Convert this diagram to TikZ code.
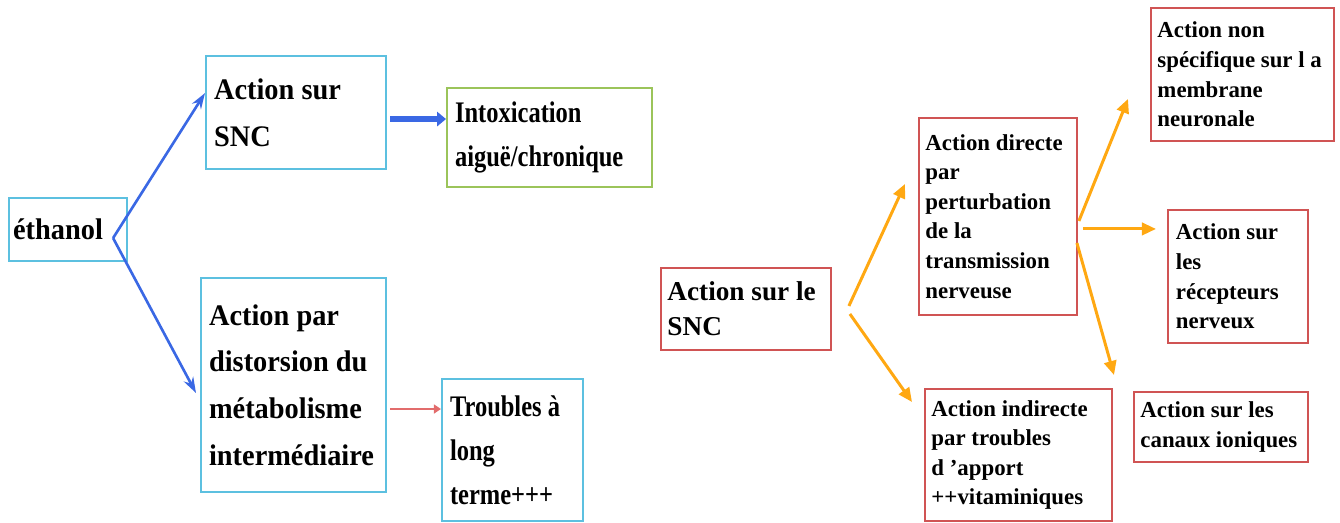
\documentclass[tikz,border=0pt]{standalone}
\usepackage{fontspec}
\setmainfont{Liberation Serif}
\newfontfamily\narrowserif{Liberation Serif}[FakeStretch=0.95]
\newfontfamily\condserif{Liberation Serif}[FakeStretch=0.82]
\usetikzlibrary{arrows.meta}

\definecolor{boxcyan}{RGB}{92,192,224}
\definecolor{boxgreen}{RGB}{155,196,90}
\definecolor{boxred}{RGB}{208,84,84}
\definecolor{arrowblue}{RGB}{58,104,228}
\definecolor{arroworange}{RGB}{255,168,18}
\definecolor{arrowred}{RGB}{226,108,108}

\tikzset{
  leftbox/.style={draw=boxcyan, line width=1.2pt, anchor=north west, align=flush left,
    inner xsep=0.16cm, inner ysep=0pt, font=\narrowserif\bfseries\fontsize{17}{26.5}\selectfont},
  condbox/.style={leftbox, font=\condserif\bfseries\fontsize{17}{25}\selectfont},
  rightbox/.style={draw=boxred, line width=1.1pt, anchor=north west, align=flush left,
    inner xsep=0.13cm, inner ysep=0pt, font=\bfseries\fontsize{13}{16.8}\selectfont},
  bluearrow/.style={draw=arrowblue, line width=1.5pt, -{Stealth[length=9pt,width=6pt]}},
  thickblue/.style={draw=arrowblue, line width=3pt, -{Triangle[length=5pt,width=8pt]}},
  redarrow/.style={draw=arrowred, line width=1.5pt, -{Triangle[length=4pt,width=5pt]}},
  orangearrow/.style={draw=arroworange, line width=1.7pt, -{Triangle[length=8pt,width=7pt]}}
}

\begin{document}
\begin{tikzpicture}[x=0.02cm, y=-0.02cm]
  \useasboundingbox (0,0) rectangle (1340,522);

  % Ethanol and its two actions
  \node[leftbox, inner xsep=0.08cm, text width=2.2cm, minimum height=1.26cm] (ethanol) at (8,197) {éthanol};
  \node[leftbox, text width=3.28cm, minimum height=2.26cm] (snc) at (205,55) {Action sur\\SNC};
  \node[leftbox, text width=3.38cm, minimum height=4.28cm] (metab) at (200,277) {Action par\\distorsion du\\métabolisme\\intermédiaire};

  % Consequences
  \node[condbox, draw=boxgreen, text width=3.78cm, minimum height=1.98cm] (intox) at (446,87) {Intoxication\\aiguë/chronique};
  \node[condbox, text width=2.5cm, minimum height=2.84cm] (troubles) at (441,378) {Troubles à\\long\\terme+++};

  % Left arrows
  \draw[bluearrow] ([xshift=-0.3cm,yshift=-0.17cm]ethanol.east) -- ([yshift=0.39cm]snc.west);
  \draw[bluearrow] ([xshift=-0.3cm,yshift=-0.17cm]ethanol.east) -- ([xshift=-0.08cm,yshift=-0.16cm]metab.west);
  \draw[thickblue] ([xshift=0.06cm,yshift=-0.13cm]snc.east) coordinate (a1) -- (a1 -| intox.west);
  \draw[redarrow] ([xshift=0.06cm,yshift=-0.48cm]metab.east) coordinate (a2) -- (a2 -| troubles.west);

  % Action sur le SNC
  \node[rightbox, text width=3.14cm, minimum height=1.64cm, font=\bfseries\fontsize{15.5}{20}\selectfont] (sncR) at (660,267) {Action sur le\\SNC};
  \node[rightbox, text width=2.9cm, minimum height=3.94cm] (directe) at (918,117) {Action directe\\par\\perturbation\\de la\\transmission\\nerveuse};
  \node[rightbox, text width=3.48cm, minimum height=2.64cm] (indirecte) at (924,388) {Action indirecte\\par troubles\\d ’apport\\++vitaminiques};

  % Targets of the direct action
  \node[rightbox, text width=3.4cm, minimum height=2.66cm] (membrane) at (1150,7) {Action non\\spécifique sur l a\\membrane\\neuronale};
  \node[rightbox, inner xsep=0.16cm, text width=2.48cm, minimum height=2.66cm] (recepteurs) at (1167,209) {Action sur\\les\\récepteurs\\nerveux};
  \node[rightbox, text width=3.22cm, minimum height=1.4cm] (canaux) at (1133,391) {Action sur les\\canaux ioniques};

  % Right arrows
  \draw[orangearrow] ([xshift=0.34cm,yshift=0.06cm]sncR.east) -- ([xshift=-0.26cm,yshift=0.65cm]directe.west);
  \draw[orangearrow] ([xshift=0.36cm,yshift=-0.1cm]sncR.east) -- ([xshift=-0.24cm,yshift=-0.28cm]indirecte.north west);
  \draw[orangearrow] ([xshift=0.02cm,yshift=-0.09cm]directe.east) -- ([xshift=-0.44cm,yshift=-0.49cm]membrane.west);
  \draw[orangearrow] ([xshift=0.1cm,yshift=-0.25cm]directe.east) coordinate (a3) -- ([xshift=-0.22cm]a3 -| recepteurs.west);
  \draw[orangearrow] ([xshift=-0.02cm,yshift=-0.53cm]directe.east) -- ([xshift=-0.38cm,yshift=0.32cm]canaux.north west);
\end{tikzpicture}
\end{document}
